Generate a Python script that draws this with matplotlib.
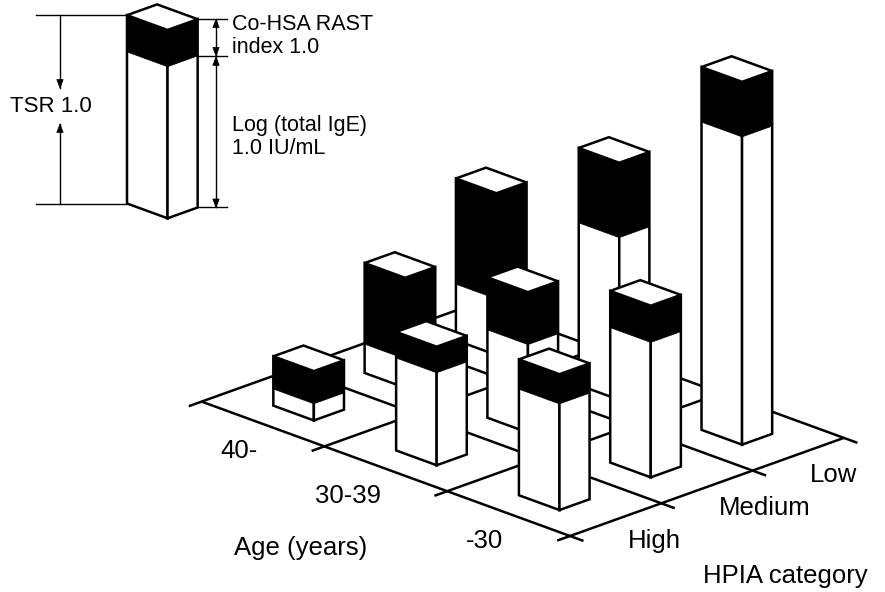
import numpy as np
import matplotlib
matplotlib.use("Agg")
import matplotlib.pyplot as plt
from matplotlib.patches import Polygon

# ---------------- data ----------------
age_labels = ["-30", "30-39", "40-"]          # front -> back
hpia_labels = ["High", "Medium", "Low"]       # left -> right
# rows: age (-30, 30-39, 40-), columns: HPIA (High, Medium, Low)
log_total_ige = [[0.70, 0.89, 2.03],
                 [0.61, 0.58, 1.07],
                 [0.11, 0.19, 0.37]]
rast_index = [[0.81, 1.00, 1.50],
              [0.71, 1.43, 2.04],
              [0.89, 2.21, 2.88]]
legend_ige = 1.0
legend_rast = 1.0

# ---------------- projection / style ----------------
ORIGIN = np.array([570.0, 536.0])
U = np.array([-122.8, -44.8])   # one age cell
V = np.array([91.3, -32.7])     # one HPIA cell
Z_IGE = 151.6                   # px per log unit
Z_RAST = 36.7                   # px per RAST unit
BAR = 0.33
LW = 1.8
FONT = ["Liberation Sans", "DejaVu Sans"]

plt.rcParams["font.family"] = FONT


def proj(u, v):
    p = ORIGIN + u * U + v * V
    return np.array([p[0], p[1]])


fig = plt.figure(figsize=(8.85, 5.92), dpi=100)
ax = fig.add_axes([0, 0, 1, 1])
ax.set_xlim(0, 885)
ax.set_ylim(592, 0)
ax.axis("off")


def draw_bar(base, h_white, h_black, z):
    left, front, right, back = [np.array(p, float) for p in base]
    H = h_white + h_black
    up = lambda p, h: (p[0], p[1] - h)
    kw = dict(closed=True, lw=LW, joinstyle="miter")
    ax.add_patch(Polygon([left, front, up(front, H), up(left, H)],
                         fc="white", ec="black", zorder=z, **kw))
    ax.add_patch(Polygon([front, right, up(right, H), up(front, H)],
                         fc="white", ec="black", zorder=z, **kw))
    ax.add_patch(Polygon([up(left, h_white), up(front, h_white),
                          up(front, H), up(left, H)],
                         fc="black", ec="black", lw=0.5, zorder=z + 0.1))
    ax.add_patch(Polygon([up(front, h_white), up(right, h_white),
                          up(right, H), up(front, H)],
                         fc="black", ec="black", lw=0.5, zorder=z + 0.1))
    ax.add_patch(Polygon([up(left, H), up(front, H), up(right, H), up(back, H)],
                         fc="white", ec="black", zorder=z + 0.2, **kw))


def base_at(uc, vc):
    h = BAR / 2
    return [proj(uc + h, vc - h), proj(uc - h, vc - h),
            proj(uc - h, vc + h), proj(uc + h, vc + h)]


# ---------------- floor grid ----------------
EXT_U, EXT_V = 0.11, 0.14
n_age, n_hp = len(age_labels), len(hpia_labels)
for j in range(n_hp + 1):
    p0, p1 = proj(-EXT_U, j), proj(n_age, j)
    ax.plot([p0[0], p1[0]], [p0[1], p1[1]], color="black", lw=LW, zorder=1,
            solid_capstyle="butt")
for i in range(n_age + 1):
    p0, p1 = proj(i, -EXT_V), proj(i, n_hp)
    ax.plot([p0[0], p1[0]], [p0[1], p1[1]], color="black", lw=LW, zorder=1,
            solid_capstyle="butt")

# ---------------- bars (back to front) ----------------
cells = []
for i in range(n_age):
    for j in range(n_hp):
        c = proj(i + 0.5, j + 0.5)
        cells.append((c[1], i, j))
cells.sort()
for k, (_, i, j) in enumerate(cells):
    draw_bar(base_at(i + 0.5, j + 0.5),
             log_total_ige[i][j] * Z_IGE, rast_index[i][j] * Z_RAST, 10 + k)

# ---------------- axis labels ----------------
FS = 18.5
for i, lab in enumerate(age_labels):
    p = proj(i + 0.5, 0)
    ax.text(p[0] - 5, p[1] + 34.5, lab, ha="right", va="baseline", fontsize=FS)
for j, lab in enumerate(hpia_labels):
    p = proj(0, j + 0.5)
    ax.text(p[0] + 12, p[1] + 28, lab, ha="left", va="baseline", fontsize=FS)
ax.text(234, 555, "Age (years)", ha="left", va="baseline", fontsize=FS)
ax.text(703, 583, "HPIA category", ha="left", va="baseline", fontsize=FS)

# ---------------- legend key ----------------
shape = base_at(0, 0)
shift = np.array([127.0, 203.5]) - shape[0]
lbase = [p + shift for p in shape]
hw, hb = legend_ige * Z_IGE, legend_rast * Z_RAST
draw_bar(lbase, hw, hb, 40)
lft, rgt = lbase[0], lbase[2]
thin = 1.0


def hline(y, x0, x1):
    ax.plot([x0, x1], [y, y], color="black", lw=thin, zorder=41)


def vline(x, y0, y1):
    ax.plot([x, x], [y0, y1], color="black", lw=thin, zorder=41)


def head(x, ytip, direction):
    # direction +1: pointing down, -1: pointing up
    L, W = 8.5, 3.2
    ax.add_patch(Polygon([(x, ytip), (x - W, ytip - direction * L),
                          (x + W, ytip - direction * L)],
                         closed=True, fc="black", ec="black", lw=0.5, zorder=42))


top_l, bot_l = lft[1] - hw - hb, lft[1]
hline(top_l, 36, lft[0])
hline(bot_l, 36, lft[0])
xa = 60
vline(xa, top_l, 88)
head(xa, 88, +1)
vline(xa, bot_l, 124)
head(xa, 124, -1)
ax.text(10, 112.5, "TSR 1.0", ha="left", va="baseline", fontsize=16)

top_r, mid_r, bot_r = rgt[1] - hw - hb, rgt[1] - hw, rgt[1]
for y in (top_r, mid_r, bot_r):
    hline(y, rgt[0], 227)
xb = 216
vline(xb, top_r, mid_r)
head(xb, top_r, -1)
head(xb, mid_r, +1)
vline(xb, mid_r, bot_r)
head(xb, mid_r + 1, -1)
head(xb, bot_r, +1)
ax.text(232, 30, "Co-HSA RAST", ha="left", va="baseline", fontsize=15.5)
ax.text(232, 53, "index 1.0", ha="left", va="baseline", fontsize=15.5)
ax.text(232, 131, "Log (total IgE)", ha="left", va="baseline", fontsize=15.5)
ax.text(232, 153.5, "1.0 IU/mL", ha="left", va="baseline", fontsize=15.5)

fig.savefig("out.png", dpi=100)
